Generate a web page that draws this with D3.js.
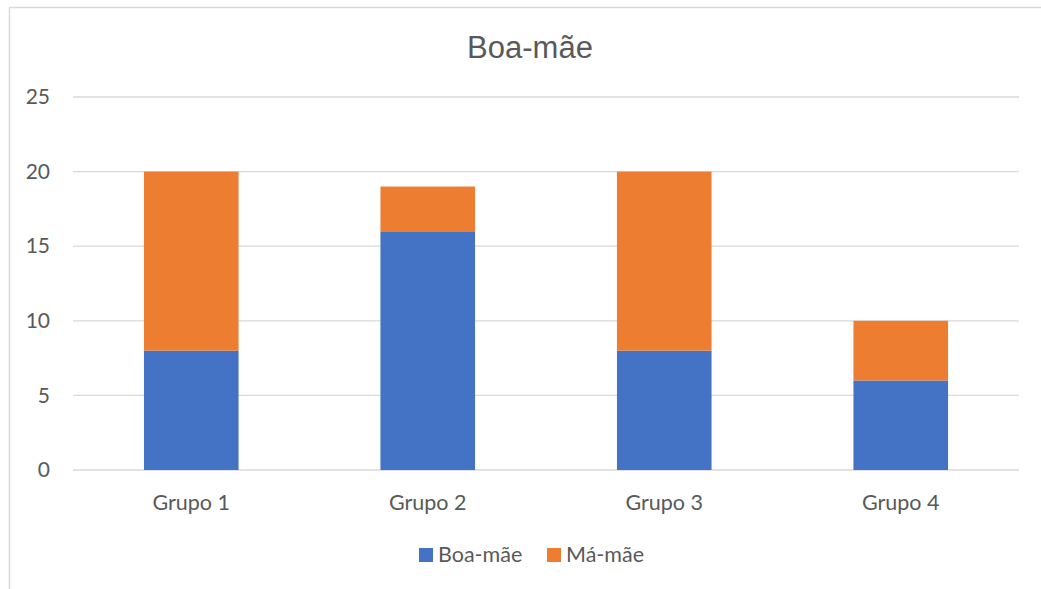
<!DOCTYPE html>
<html>
<head>
<meta charset="utf-8">
<script src="https://cdn.jsdelivr.net/npm/d3@7"></script>
<style>
  body { margin: 0; background: #fff; }
  text { font-family: Lato, "Open Sans", sans-serif; fill: #595959; }
</style>
</head>
<body>
<div id="chart"></div>
<script>
// chart data
var groups = ["Grupo 1", "Grupo 2", "Grupo 3", "Grupo 4"];
var seriesNames = ["Boa-mãe", "Má-mãe"];
var boaMae = [8, 16, 8, 6];
var maMae = [12, 3, 12, 4];
var yTicks = [0, 5, 10, 15, 20, 25];
var colors = ["#4472C4", "#ED7D31"];

var width = 1041, height = 589;
var margin = {top: 97, right: 22, bottom: 119, left: 73};
var innerW = width - margin.left - margin.right,
    innerH = height - margin.top - margin.bottom;

var svg = d3.select("#chart").append("svg")
    .attr("width", width)
    .attr("height", height);

// chart frame
svg.append("rect")
    .attr("x", 9.5).attr("y", 7.5)
    .attr("width", 1060).attr("height", 620)
    .attr("fill", "none")
    .attr("stroke", "#D9D9D9")
    .attr("stroke-width", 1.5);

var g = svg.append("g")
    .attr("transform", "translate(" + margin.left + "," + margin.top + ")");

// scales
var x = d3.scaleBand().domain(groups).range([0, innerW]).padding(0);
var y = d3.scaleLinear().domain([0, 25]).range([innerH, 0]);

// stacked data
var table = groups.map(function(d, i) {
  return {group: d, "Boa-mãe": boaMae[i], "Má-mãe": maMae[i]};
});
var stacked = d3.stack().keys(seriesNames)(table);

// gridlines
g.selectAll(".grid")
    .data(yTicks)
  .enter().append("line")
    .attr("x1", 0).attr("x2", innerW)
    .attr("y1", function(d) { return y(d); })
    .attr("y2", function(d) { return y(d); })
    .attr("stroke", "#D9D9D9")
    .attr("stroke-width", 1.3);

// bars
var barW = x.bandwidth() * 0.4;
g.selectAll(".series")
    .data(stacked)
  .enter().append("g")
    .attr("fill", function(d, i) { return colors[i]; })
  .selectAll("rect")
    .data(function(d) { return d; })
  .enter().append("rect")
    .attr("x", function(d) { return x(d.data.group) + (x.bandwidth() - barW) / 2; })
    .attr("width", barW)
    .attr("y", function(d) { return y(d[1]); })
    .attr("height", function(d) { return y(d[0]) - y(d[1]); });

// y axis
var yAxis = d3.axisLeft(y).tickValues(yTicks).tickSize(0).tickPadding(23);
g.append("g")
    .call(yAxis)
    .call(function(s) { s.select(".domain").remove(); })
    .selectAll("text")
      .style("font-size", "21px")
      .attr("fill", "#595959");

// x axis
var xAxis = d3.axisBottom(x).tickSize(0).tickPadding(25);
g.append("g")
    .attr("transform", "translate(0," + innerH + ")")
    .call(xAxis)
    .call(function(s) { s.select(".domain").remove(); })
    .selectAll("text")
      .style("font-size", "21.5px")
      .attr("fill", "#595959");

// title
svg.append("text")
    .attr("x", 530).attr("y", 58)
    .attr("text-anchor", "middle")
    .style("font-family", "'Liberation Sans', Arial, sans-serif")
    .style("font-size", "31px")
    .text("Boa-mãe");

// legend
var legendX = [419, 547];
var legend = svg.selectAll(".legend")
    .data(seriesNames)
  .enter().append("g")
    .attr("transform", function(d, i) { return "translate(" + legendX[i] + ",548)"; });

legend.append("rect")
    .attr("width", 14).attr("height", 14)
    .attr("fill", function(d, i) { return colors[i]; });

legend.append("text")
    .attr("x", 19).attr("y", 14)
    .style("font-size", "21.5px")
    .text(function(d) { return d; });
</script>
</body>
</html>
